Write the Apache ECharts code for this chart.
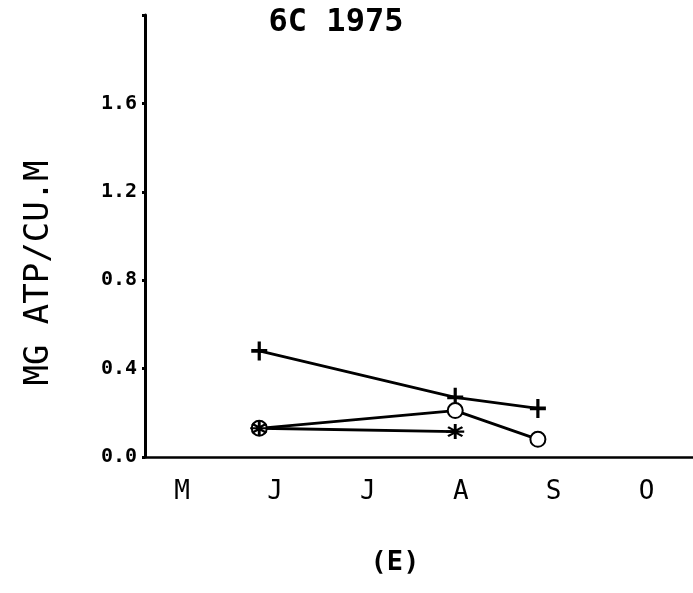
<!DOCTYPE html>
<html>
<head>
<meta charset="utf-8">
<script src="https://cdn.jsdelivr.net/npm/echarts@6/dist/echarts.min.js"></script>
<style>html,body{margin:0;padding:0;background:#fff;}#c{width:693px;height:593px;}</style>
</head>
<body>
<div id="c"></div>
<script>
// Data
const titleText = '6C 1975';
const yAxisTitle = 'MG ATP/CU.M';
const xAxisTitle = '(E)';
const monthTicks = [5, 6, 7, 8, 9, 10];
const monthLabels = ['M', 'J', 'J', 'A', 'S', 'O'];
const yTicks = [0.0, 0.4, 0.8, 1.2, 1.6];

const plusX = [5.83, 7.94, 8.83];
const plusY = [0.48, 0.27, 0.22];
const circleX = [5.83, 7.94, 8.83];
const circleY = [0.13, 0.21, 0.08];
const starX = [5.83, 7.94];
const starY = [0.13, 0.115];

const toPairs = (xs, ys) => xs.map((x, i) => [x, ys[i]]);

const plusPath = 'path://M4,0 H6 V4 H10 V6 H6 V10 H4 V6 H0 V4 H4 Z';
const starPath = 'path://M4.2,0 H5.8 V3.2 L8.6,1.4 L9.4,2.6 L6.6,4.3 H10 V5.7 H6.6 L9.4,7.4 L8.6,8.6 L5.8,6.8 V10 H4.2 V6.8 L1.4,8.6 L0.6,7.4 L3.4,5.7 H0 V4.3 H3.4 L0.6,2.6 L1.4,1.4 L4.2,3.2 Z';

const font = '"DejaVu Sans Mono", monospace';

const chart = echarts.init(document.getElementById('c'), null, {renderer: 'canvas'});
chart.setOption({
  animation: false,
  backgroundColor: '#fff',
  graphic: [
    {
      type: 'text', x: 336, y: 23,
      style: {text: titleText, fontFamily: font, fontSize: 32, fontWeight: 'bold', fill: '#000', align: 'center', verticalAlign: 'middle'}
    },
    {
      type: 'text', x: 39, y: 273, rotation: Math.PI / 2,
      style: {text: yAxisTitle, fontFamily: font, fontSize: 34, fill: '#000', align: 'center', verticalAlign: 'middle'}
    },
    {
      type: 'text', x: 395, y: 563,
      style: {text: xAxisTitle, fontFamily: font, fontSize: 27, fontWeight: 'bold', fill: '#000', align: 'center', verticalAlign: 'middle'}
    }
  ],
  grid: {left: 145, right: 0, top: 15, bottom: 136},
  xAxis: {
    type: 'value', min: 4.6, max: 10.5,
    axisLine: {show: true, onZero: false, lineStyle: {color: '#000', width: 2.5}},
    axisTick: {show: false},
    splitLine: {show: false},
    axisLabel: {
      customValues: monthTicks,
      formatter: v => monthLabels[monthTicks.indexOf(Math.round(v))] || '',
      fontFamily: font, fontSize: 26, color: '#000', margin: 22
    }
  },
  yAxis: {
    type: 'value', min: 0, max: 2.0, interval: 0.4,
    axisLine: {show: true, lineStyle: {color: '#000', width: 3}},
    axisTick: {show: true, length: 3, inside: false, lineStyle: {color: '#000', width: 3}},
    splitLine: {show: false},
    axisLabel: {
      formatter: v => (yTicks.some(t => Math.abs(t - v) < 1e-6) ? v.toFixed(1) : ''),
      fontFamily: font, fontSize: 20, fontWeight: 'bold', color: '#000', margin: 8
    }
  },
  series: [
    {
      type: 'line', data: toPairs(plusX, plusY),
      symbol: plusPath, symbolSize: [16, 19],
      lineStyle: {color: '#000', width: 2.8},
      itemStyle: {color: '#000'}
    },
    {
      type: 'line', data: toPairs(circleX, circleY),
      symbol: 'emptyCircle', symbolSize: 15,
      lineStyle: {color: '#000', width: 2.8},
      itemStyle: {color: '#000', borderColor: '#000', borderWidth: 3}
    },
    {
      type: 'line', data: toPairs(starX, starY),
      symbol: starPath, symbolSize: [18, 15],
      lineStyle: {color: '#000', width: 2.8},
      itemStyle: {color: '#000'}
    }
  ]
});
</script>
</body>
</html>
